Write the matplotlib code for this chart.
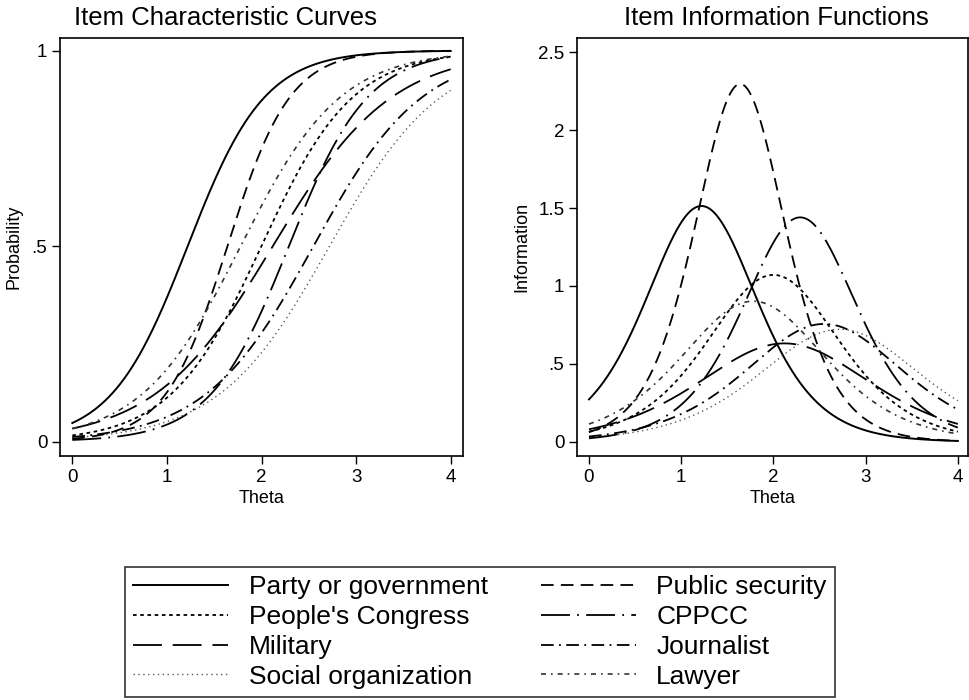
import numpy as np
import matplotlib
matplotlib.use("Agg")
import matplotlib.pyplot as plt

# 2PL item parameters (peak location = difficulty,
# peak height of the information curve = discrimination^2 / 4)
items = ["Party or government", "People's Congress", "Military", "Social organization",
         "Public security", "CPPCC", "Journalist", "Lawyer"]
discrimination = [2.46, 2.07, 1.59, 1.70, 3.03, 2.40, 1.74, 1.90]
difficulty = [1.22, 2.00, 2.12, 2.72, 1.64, 2.29, 2.55, 1.78]

styles = [
    dict(linestyle="-", color="black", lw=1.4),
    dict(linestyle=(0, (2, 2)), color="black", lw=1.3),
    dict(linestyle=(0, (16, 6)), color="black", lw=1.3),
    dict(linestyle=(0, (1, 2.5)), color="0.35", lw=1.0),
    dict(linestyle=(0, (7, 4)), color="black", lw=1.3),
    dict(linestyle=(0, (16, 4, 1, 4)), color="black", lw=1.3),
    dict(linestyle=(0, (7, 3, 1, 3)), color="black", lw=1.3),
    dict(linestyle=(0, (3, 3, 1, 3)), color="0.2", lw=1.2),
]

theta_ticks = [0, 1, 2, 3, 4]
prob_ticks = [0, 0.5, 1]
prob_labels = ["0", ".5", "1"]
info_ticks = [0, 0.5, 1, 1.5, 2, 2.5]
info_labels = ["0", ".5", "1", "1.5", "2", "2.5"]

plt.rcParams["font.family"] = ["Liberation Sans", "DejaVu Sans"]

theta = np.linspace(0, 4, 401)

fig = plt.figure(figsize=(9.7, 7.0), dpi=100)
W, H = 970, 700


def px_axes(x0, y0, x1, y1):
    return fig.add_axes([x0 / W, 1 - y1 / H, (x1 - x0) / W, (y1 - y0) / H])


ax1 = px_axes(60, 38, 463, 456)
ax2 = px_axes(577, 38, 968, 456)

handles = []
for a, b, st in zip(discrimination, difficulty, styles):
    p = 1 / (1 + np.exp(-a * (theta - b)))
    info = a ** 2 * p * (1 - p)
    h, = ax1.plot(theta, p, **st)
    ax2.plot(theta, info, **st)
    handles.append(h)

ax1.set_xlim(-0.13, 4.13)
ax1.set_ylim(-0.037, 1.032)
ax1.set_yticks(prob_ticks, prob_labels)
ax1.set_ylabel("Probability", fontsize=13, labelpad=7)

ax2.set_xlim(-0.13, 4.11)
ax2.set_ylim(-0.09, 2.59)
ax2.set_yticks(info_ticks, info_labels)
ax2.set_ylabel("Information", fontsize=13, labelpad=6)

for ax in (ax1, ax2):
    ax.set_xticks(theta_ticks)
    ax.set_xlabel("Theta", fontsize=13, labelpad=3)
    ax.tick_params(direction="out", length=6, width=1, labelsize=13.5, pad=3)
    for s in ax.spines.values():
        s.set_linewidth(1.2)

fig.text(226 / W, 1 - 18 / H, "Item Characteristic Curves", ha="center", va="center", fontsize=18.5)
fig.text(776 / W, 1 - 18 / H, "Item Information Functions", ha="center", va="center", fontsize=18.5)

leg = fig.legend(handles, items, ncol=2, loc="center", bbox_to_anchor=(480 / W, 1 - 632 / H),
                 fontsize=19, frameon=True, fancybox=False, edgecolor="black",
                 handlelength=3.6, handletextpad=0.78, columnspacing=2.0,
                 labelspacing=0.22, borderpad=0.3)
leg.get_frame().set_linewidth(1.2)

fig.savefig("out.png", dpi=100)
